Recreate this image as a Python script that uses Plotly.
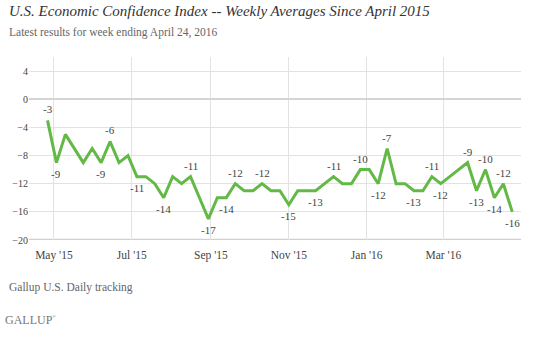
import plotly.graph_objects as go
import pandas as pd

# Weekly averages, week ending dates (Sundays) from Apr 26, 2015 to Apr 24, 2016
weeks = pd.date_range("2015-04-26", "2016-04-24", freq="7D")
values = [-3, -9, -5, -7, -9, -7, -9, -6, -9, -8,
          -11, -11, -12, -14, -11, -12, -11, -14, -17, -14,
          -14, -12, -13, -13, -12, -13, -13, -15, -13, -13,
          -13, -12, -11, -12, -12, -10, -10, -12, -7, -12,
          -12, -13, -13, -11, -12, -11, -10, -9, -13, -10,
          -14, -12, -16]

# Which points carry a data label, and whether it sits above or below the line
label_idx = [0, 1, 6, 7, 10, 13, 16, 18, 20, 21, 24, 27, 30, 32, 35, 37, 38,
             41, 43, 44, 47, 48, 49, 50, 51, 52]
label_pos = ["above", "below", "below", "above", "below", "below", "above",
             "below", "below", "above", "above", "below", "below", "above",
             "above", "below", "above", "below", "above", "below", "above",
             "below", "above", "below", "above", "below"]

tick_dates = ["2015-05-01", "2015-07-01", "2015-09-01", "2015-11-01",
              "2016-01-01", "2016-03-01"]
tick_text = ["May '15", "Jul '15", "Sep '15", "Nov '15", "Jan '16", "Mar '16"]
y_ticks = [4, 0, -4, -8, -12, -16, -20]

title = "U.S. Economic Confidence Index -- Weekly Averages Since April 2015"
subtitle = "Latest results for week ending April 24, 2016"
source = "Gallup U.S. Daily tracking"

SERIF = "Georgia, 'Liberation Serif', 'DejaVu Serif', serif"
GREEN = "#63b946"

fig = go.Figure()
fig.add_trace(go.Scatter(
    x=weeks, y=values, mode="lines",
    line=dict(color=GREEN, width=3), hoverinfo="skip", showlegend=False,
))

annotations = []
for i, pos in zip(label_idx, label_pos):
    annotations.append(dict(
        x=weeks[i], y=values[i], xref="x", yref="y",
        text=str(values[i]), showarrow=False,
        yshift=11 if pos == "above" else -11,
        font=dict(family=SERIF, size=11, color="#444"),
    ))

L, R, T, B = 27, 16, 57, 98
W, H = 537, 338
pw, ph = W - L - R, H - T - B


def px(xp):
    return (xp - L) / pw


def py(yp):
    return (H - B - yp) / ph


annotations += [
    dict(text="<i>" + title + "</i>", xref="paper", yref="paper",
         x=px(5), y=py(11), xanchor="left", yanchor="middle", showarrow=False,
         font=dict(family=SERIF, size=15, color="#333")),
    dict(text=subtitle, xref="paper", yref="paper",
         x=px(5), y=py(32), xanchor="left", yanchor="middle", showarrow=False,
         font=dict(family=SERIF, size=11.5, color="#666")),
    dict(text=source, xref="paper", yref="paper",
         x=px(5), y=py(287), xanchor="left", yanchor="middle", showarrow=False,
         font=dict(family=SERIF, size=11.5, color="#666")),
    dict(text="GALLUP", xref="paper", yref="paper",
         x=px(1), y=py(320), xanchor="left", yanchor="middle", showarrow=False,
         font=dict(family=SERIF, size=12, color="#777")),
    dict(text="®", xref="paper", yref="paper",
         x=px(48), y=py(316), xanchor="left", yanchor="middle", showarrow=False,
         font=dict(family=SERIF, size=5, color="#777")),
]

fig.update_layout(
    width=W, height=H,
    margin=dict(l=L, r=R, t=T, b=B),
    paper_bgcolor="white", plot_bgcolor="white",
    annotations=annotations,
    xaxis=dict(
        range=["2015-04-11 12:00", "2016-04-30 20:00"],
        tickvals=tick_dates, ticktext=tick_text,
        showgrid=True, gridcolor="#e2e2e2", gridwidth=1,
        zeroline=False, showline=False, ticks="",
        ticklabelstandoff=6,
        tickfont=dict(family=SERIF, size=11.5, color="#444"),
        fixedrange=True,
    ),
    yaxis=dict(
        range=[-20, 6], tickvals=y_ticks,
        showgrid=True, gridcolor="#e2e2e2", gridwidth=1,
        zeroline=True, zerolinecolor="#d4d4d4", zerolinewidth=1.5,
        showline=False, ticks="", ticksuffix=" ",
        tickfont=dict(family=SERIF, size=10, color="#444"),
        fixedrange=True,
    ),
    shapes=[dict(type="line", xref="paper", yref="y", x0=0, x1=1, y0=-20, y1=-20,
                 line=dict(color="#d0d0d0", width=2.5), layer="below")],
)

fig.write_html("out.html", config=dict(displayModeBar=False))
